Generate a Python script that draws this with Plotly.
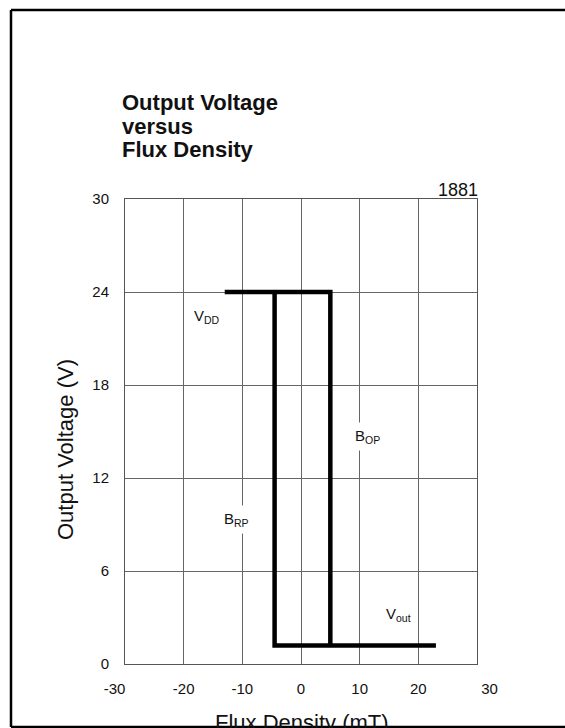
import plotly.graph_objects as go

# hysteresis curve of the switch (mT, V)
flux_mt = [-13, 5, 5, None, -4.5, -4.5, 23]
vout_v = [24, 24, 1.2, None, 24, 1.2, 1.2]

x_ticks = [-30, -20, -10, 0, 10, 20, 30]
y_ticks = [0, 6, 12, 18, 24, 30]

NB = "\u00a0"
x_ticktext = ["-30" + NB * 5, "-20", "-10", "0", "10", "20", NB * 6 + "30"]

# labels placed on the chart
label_text = ["V<sub>DD</sub>", "B<sub>OP</sub>", "B<sub>RP</sub>", "V<sub>out</sub>"]
label_x = [-16.1, 11.3, -11.0, 16.6]
label_y = [22.4, 14.7, 9.35, 3.2]

title_lines = ["Output Voltage", "versus", "Flux Density"]

W, H = 565, 728
# plot box in page pixels
L, R, T, B = 125, 477, 199, 664
FONT = "Liberation Sans, Arial, sans-serif"
INK = "#111"


def px_x(px):
    return (px - L) / (R - L)


def px_y(py):
    return (B - py) / (B - T)


fig = go.Figure()
fig.add_trace(go.Scatter(
    x=flux_mt, y=vout_v,
    mode="lines",
    line=dict(color="black", width=4.5),
    connectgaps=False,
    showlegend=False,
    hoverinfo="skip",
))

annotations = []
for t, x, y in zip(label_text, label_x, label_y):
    annotations.append(dict(
        x=x, y=y, xref="x", yref="y", text=t, showarrow=False,
        font=dict(size=15, color=INK), bgcolor="white", borderpad=4,
    ))

annotations.append(dict(
    x=px_x(480), y=px_y(190), xref="paper", yref="paper", text="1881",
    xanchor="right", yanchor="middle", showarrow=False,
    font=dict(size=18, color=INK),
))

for line, py in zip(title_lines, [102, 126, 149]):
    annotations.append(dict(
        x=px_x(120), y=px_y(py), xref="paper", yref="paper",
        text="<b>" + line + "</b>",
        xanchor="left", yanchor="middle", showarrow=False,
        font=dict(size=22, color=INK),
    ))

# axis titles
annotations.append(dict(
    x=px_x(302), y=px_y(722), xref="paper", yref="paper",
    text="Flux Density (mT)", xanchor="center", yanchor="middle", showarrow=False,
    font=dict(size=22, color=INK),
))
annotations.append(dict(
    x=px_x(65), y=px_y(450), xref="paper", yref="paper",
    text="Output Voltage (V)", textangle=-90,
    xanchor="center", yanchor="middle", showarrow=False,
    font=dict(size=22, color=INK),
))

# page frame: left, top and bottom edges (right edge lies off the page)
frame = dict(color="black", width=2.5)
shapes = [
    dict(type="line", xref="paper", yref="paper", x0=px_x(11), x1=px_x(11),
         y0=px_y(727), y1=px_y(10), line=frame, layer="above"),
    dict(type="line", xref="paper", yref="paper", x0=px_x(11), x1=px_x(620),
         y0=px_y(10), y1=px_y(10), line=frame, layer="above"),
    dict(type="line", xref="paper", yref="paper", x0=px_x(11), x1=px_x(620),
         y0=px_y(727), y1=px_y(727), line=frame, layer="above"),
]

fig.update_layout(
    width=W, height=H,
    margin=dict(l=L, r=W - R, t=T, b=H - B),
    paper_bgcolor="white", plot_bgcolor="white",
    font=dict(family=FONT, color=INK),
    annotations=annotations,
    shapes=shapes,
    xaxis=dict(
        range=[-30, 30], tickvals=x_ticks, ticktext=x_ticktext,
        showgrid=True, gridcolor="#666", gridwidth=1,
        showline=True, linecolor="#555", linewidth=1, mirror=True,
        zeroline=False, ticks="", ticklabelstandoff=11,
        tickfont=dict(size=15, color=INK),
    ),
    yaxis=dict(
        range=[0, 30], tickvals=y_ticks,
        showgrid=True, gridcolor="#666", gridwidth=1,
        showline=True, linecolor="#555", linewidth=1, mirror=True,
        zeroline=False, ticks="", ticklabelstandoff=12,
        tickfont=dict(size=15, color=INK),
    ),
)

# figure fills the window exactly: no body margin, no scrollbars, no modebar
fig.write_html(
    "out.html",
    config={"displayModeBar": False},
    post_script="document.body.style.margin='0';document.body.style.overflow='hidden';",
)
